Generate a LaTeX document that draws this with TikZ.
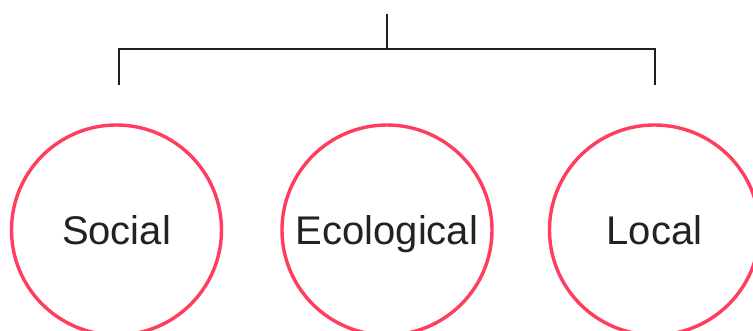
\documentclass[tikz,border=0pt]{standalone}
\usepackage{fontspec}
\setmainfont{Liberation Sans}
\definecolor{ringred}{HTML}{FF3D5E}
\definecolor{inkdark}{HTML}{222222}
\definecolor{bracketink}{HTML}{1E1E1E}
\begin{document}
\begin{tikzpicture}[x=1pt,y=-1pt,
  ring/.style={circle, draw=ringred, line width=3.4pt, minimum size=210pt,
    inner sep=0pt, text=inkdark, text height=30pt, text depth=0pt,
    font=\fontsize{40pt}{44pt}\selectfont},
  bracket/.style={draw=bracketink, line width=2pt}]
  \useasboundingbox[fill=white] (0,0) rectangle (753,331);
  % three category circles
  \node[ring] (social) at (116.5,230) {Social};
  \node[ring] (eco) at (387,230) {Ecological};
  \node[ring] (local) at (654.5,230) {Local};
  % bracket grouping the three
  \coordinate (stem) at (387,14);
  \coordinate (join) at (387,49);
  \coordinate (lcorner) at (119,49);
  \coordinate (rcorner) at (655,49);
  \coordinate (lend) at (119,85);
  \coordinate (rend) at (655,85);
  \draw[bracket] (stem) -- (join);
  \draw[bracket] (lend) -- (lcorner) -- (rcorner) -- (rend);
\end{tikzpicture}
\end{document}
